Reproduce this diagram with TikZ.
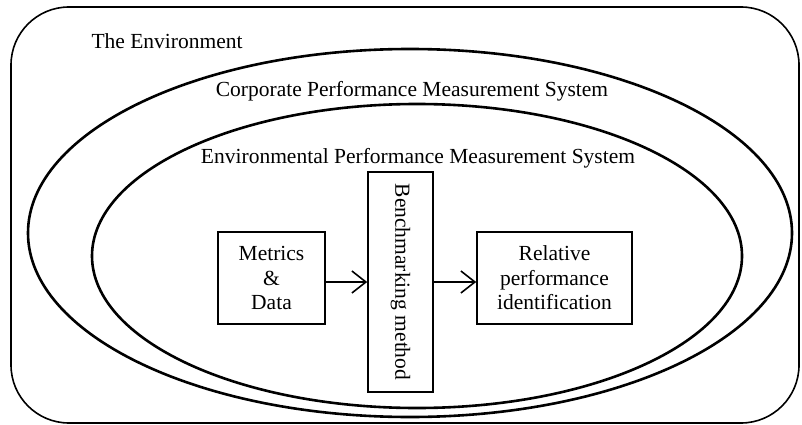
\documentclass[tikz,border=0pt]{standalone}
\usepackage{fontspec}
\setmainfont{Liberation Serif}
\usetikzlibrary{arrows.meta}
\begin{document}
\begin{tikzpicture}[
            x=1pt, y=-1pt,
            font=\fontsize{21.5}{24.5}\selectfont,
            frame/.style={draw, line width=1.6pt, rounded corners=58pt},
            system/.style={draw, line width=2.6pt},
            stage/.style={draw, line width=1.6pt, align=center, inner sep=0pt},
            flow/.style={-{Straight Barb[length=14pt,width=22pt,line width=1.6pt]}, line width=1.6pt}
        ]
        \useasboundingbox (0,0) rectangle (802,425);
        \draw[frame] (11,7) rectangle (799,423);
        \node[anchor=base west] (env) at (88,49) {The Environment};

        \draw[system] (410,233) ellipse [x radius=382, y radius=184];
        \node[anchor=base] (cpms) at (412,97) {Corporate Performance Measurement System};

        \draw[system] (417,256) ellipse [x radius=325, y radius=152];
        \node[anchor=base] (epms) at (418,163) {Environmental Performance Measurement System};

        \node[stage, minimum width=107pt, minimum height=92pt] (metrics) at (271.5,278) {Metrics\\\&\\Data};
        \node[stage, minimum width=65pt, minimum height=220pt] (bench) at (400.5,282) {};
        \node[rotate=-90] (benchtext) at (bench.center) {Benchmarking method};
        \node[stage, minimum width=155pt, minimum height=92pt] (relative) at (554.5,278) {Relative\\performance\\identification};

        \draw[flow] (metrics.east |- 0,282) -- (bench.west |- 0,282);
        \draw[flow] (bench.east |- 0,282) -- (relative.west |- 0,282);
    \end{tikzpicture}
\end{document}
